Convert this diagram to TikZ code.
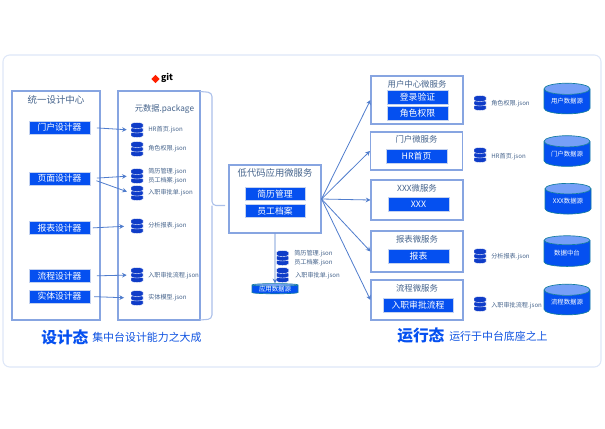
\documentclass[tikz,border=0pt]{standalone}
\usepackage{fontspec}
\setmainfont{Noto Sans CJK SC}
\usepackage{xcolor}
\usetikzlibrary{arrows.meta, shapes.geometric}
\definecolor{ptblue}{RGB}{5, 80, 240}
\definecolor{ptedge}{RGB}{135, 165, 225}
\definecolor{ptline}{RGB}{80, 125, 205}
\definecolor{pttext}{RGB}{70, 100, 140}
\definecolor{ptdark}{RGB}{15, 60, 200}
\definecolor{ptteal}{RGB}{20, 125, 160}
\definecolor{ptpanel}{RGB}{222, 231, 248}
\tikzset{
  groupbox/.style={draw=ptedge, line width=0.8pt, fill=white, inner sep=0pt},
  bluebox/.style={fill=ptblue, draw=ptedge!50, line width=0.3pt, text=white, inner sep=0pt, font=\fontsize{6.6}{7}\selectfont},
  grouptitle/.style={text=pttext, inner sep=0pt, font=\fontsize{6.3}{7}\selectfont},
  jsonlabel/.style={text=pttext, anchor=west, inner sep=0pt, font=\fontsize{4.6}{5}\selectfont},
  dbnode/.style={minimum width=9pt, minimum height=10.5pt, inner sep=0pt},
  flowline/.style={-{Stealth[length=3.5pt,width=3.5pt]}, draw=ptline, line width=0.6pt},
  dbdrum/.style={cylinder, shape border rotate=90, aspect=0.35, draw=ptteal, line width=0.5pt, inner sep=0pt,
    cylinder uses custom fill, cylinder body fill=ptblue, cylinder end fill=ptblue!55, text=white,
    minimum width=34.5pt, minimum height=23pt, font=\fontsize{4.8}{5}\selectfont},
  bigtitle/.style={text=ptblue, inner sep=0pt, anchor=west, font=\fontsize{11.8}{12}\bfseries\selectfont},
  subtitle/.style={text=ptblue!85!pttext, inner sep=0pt, anchor=west, font=\fontsize{8.2}{9}\selectfont}
}
\begin{document}
\begin{tikzpicture}[x=0.75pt, y=-0.75pt]
    \useasboundingbox (0,0) rectangle (605,428);
    % Panel
    \draw[draw=ptpanel, line width=0.8pt, fill=white, rounded corners=5pt] (3,55) rectangle (601,367);

    % Design center
    \node[groupbox, minimum width=66pt, minimum height=171.75pt] (center) at (56,205.5) {};
    \node[grouptitle, font=\fontsize{7.1}{8}\selectfont] (centertitle) at (56,100) {统一设计中心};
    \foreach \boxname/\boxy/\boxtext in {portal/127.5/门户设计器, page/178.5/页面设计器, report/228/报表设计器, process/276/流程设计器, entity/296.5/实体设计器} {
      \node[bluebox, minimum width=45.75pt, minimum height=10pt] (\boxname) at (59.5,\boxy) {\boxtext};
    }

    % Metadata package
    \node[groupbox, minimum width=61.5pt, minimum height=171.75pt] (meta) at (159,205.5) {};
    \node[grouptitle, font=\fontsize{6.2}{7}\selectfont] (metatitle) at (164.5,109) {元数据.package};
    \node[diamond, fill=red!75!orange, minimum size=6.5pt, inner sep=0pt] (gitmark) at (155.5,79) {};
    \node[inner sep=0pt, font=\fontsize{6.5}{8}\bfseries\selectfont] (gitlabel) at (167,78) {git};

    % Brace
    \draw[draw=ptedge!70, line width=0.8pt, rounded corners=3pt] (200,91.5) -- (212,92.5) -- (212,205.5) -- (225,205.5);
    \draw[draw=ptedge!70, line width=0.8pt, rounded corners=3pt] (200,320) -- (212,319) -- (212,205.5);

    % Low code service
    \node[groupbox, minimum width=69pt, minimum height=51pt] (lowcode) at (275,199) {};
    \node[grouptitle, font=\fontsize{7}{8}\selectfont] (lowtitle) at (275,173) {低代码应用微服务};
    \node[bluebox, minimum width=45pt, minimum height=10pt] (resume) at (275,194) {简历管理};
    \node[bluebox, minimum width=45pt, minimum height=10pt] (staff) at (275,211) {员工档案};

    % Data source
    \node[dbdrum, aspect=0.08, minimum width=34.5pt, minimum height=7pt] (appdb) at (275,289.5) {应用数据源};

    % Services
    \foreach \svcname/\svcx/\svcy/\svch/\svctext/\titley in {usersvc/417/100/48/用户中心微服务/84, portalsvc/416.5/151/38/门户微服务/139, xxxsvc/417/200/40/XXX微服务/188, reportsvc/417/251.5/41/报表微服务/239.5, flowsvc/417/300/40/流程微服务/288} {
      \node[groupbox, minimum width=69pt, minimum height=\svch*0.75pt] (\svcname) at (\svcx,\svcy) {};
      \node[grouptitle] (\svcname title) at (\svcx,\titley) {\svctext};
    }
    \foreach \itemname/\itemx/\itemy/\itemw/\itemtext in {login/417.5/97/61/登录验证, role/417.5/113.5/61/角色权限, hrhome/416.5/156.5/61/HR首页, xxxitem/418.5/204/61/XXX, reportitem/418.5/256/61/报表, flowitem/418/305/70/入职审批流程} {
      \node[bluebox, minimum width=\itemw*0.75pt, minimum height=10.5pt] (\itemname) at (\itemx,\itemy) {\itemtext};
    }

    % Database icons
    \foreach \dbname/\dbx/\dby in {dbhr/137/130, dbrole/137/149, dbresume/137/176, dbjoin/137/193, dbreport/137/226, dbflow/137/275, dbentity/137/298,
      dbapp/282.5/258, dbappb/282.5/275, dbsvcrole/480/103, dbsvchr/480/155, dbsvcreport/480/256, dbsvcflow/480/304} {
      \node[dbnode] (\dbname) at (\dbx,\dby) {};
      \foreach \k in {4.5,0,-4.5} {
        \filldraw[fill=ptdark, draw=white, line width=0.3pt] (\dbx-6,\dby+\k-1.5) -- (\dbx-6,\dby+\k+1.5)
          .. controls (\dbx-6,\dby+\k+3.5) and (\dbx+6,\dby+\k+3.5) .. (\dbx+6,\dby+\k+1.5) -- (\dbx+6,\dby+\k-1.5)
          .. controls (\dbx+6,\dby+\k-3.5) and (\dbx-6,\dby+\k-3.5) .. cycle;
      }
    }

    % Json labels
    \foreach \labx/\laby/\labtext in {148/130/HR首页.json, 148/149/角色权限.json, 148/172/简历管理.json, 148/181/员工档案.json, 148/193/入职审批单.json, 148/226/分析报表.json, 148/276/入职审批流程.json, 148/298/实体模型.json,
      294/254/简历管理.json, 294/263/员工档案.json, 295/275.5/入职审批单.json, 491/104/角色权限.json, 491/157/HR首页.json, 491/257/分析报表.json, 491/305.5/入职审批流程.json} {
      \node[jsonlabel] at (\labx,\laby) {\labtext};
    }

    % Drums
    \node[dbdrum] (userdb) at (567,101.5) {用户数据源};
    \node[dbdrum] (portaldb) at (567,154) {门户数据源};
    \node[dbdrum] (xxxdb) at (568,201.5) {XXX数据源};
    \node[dbdrum] (middledb) at (567,253.5) {数据中台};
    \node[dbdrum] (flowdb) at (567,302.5) {流程数据源};

    % Design arrows
    \draw[flowline, shorten <=5pt, shorten >=3pt] (portal.east) -- (dbhr.west);
    \draw[flowline, shorten <=5pt, shorten >=3pt] (page.east) -- (dbresume.west);
    \draw[flowline, shorten <=5pt, shorten >=3pt] (page.east) -- (dbjoin.west);
    \draw[flowline, shorten <=2pt, shorten >=5pt] (report.east) -- (dbreport.west);
    \draw[flowline, shorten <=5pt, shorten >=3pt] (process.east) -- (dbflow.west);
    \draw[flowline, shorten <=3pt, shorten >=5pt] (entity.east) -- (dbentity.west);

    % Service arrows
    \draw[flowline] (lowcode.south) -- (appdb.north);
    \foreach \svcname in {usersvc, portalsvc, xxxsvc, reportsvc, flowsvc} {
      \draw[flowline] (lowcode.east) -- (\svcname.west);
    }

    % Captions
    \node[bigtitle] (designcap) at (41,337) {设计态};
    \node[subtitle] (designsub) at (92,337) {集中台设计能力之大成};
    \node[bigtitle] (runcap) at (397,336) {运行态};
    \node[subtitle] (runsub) at (449,336) {运行于中台底座之上};
\end{tikzpicture}
\end{document}
